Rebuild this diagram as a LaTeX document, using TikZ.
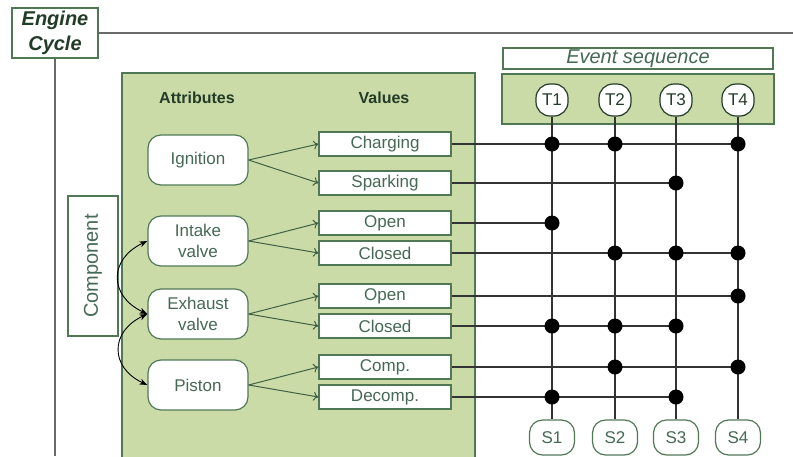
\documentclass[tikz,border=0pt]{standalone}
\usepackage{fontspec}
\setmainfont{Liberation Sans}
\usetikzlibrary{arrows.meta}
\definecolor{panelgreen}{RGB}{203,219,167}
\definecolor{edgegreen}{RGB}{80,120,85}
\definecolor{textgreen}{RGB}{70,105,85}
\definecolor{headgreen}{RGB}{35,60,40}
\definecolor{framegray}{RGB}{105,105,105}

\begin{document}
\begin{tikzpicture}
[
    x=1pt, y=-1pt,
    font=\fontsize{17}{21}\selectfont,
    box/.style={draw=edgegreen, line width=1.2pt, fill=white, text=textgreen, inner sep=0pt, align=center},
    attr/.style={box, rounded corners=13pt, minimum width=100pt, minimum height=50pt},
    val/.style={box, minimum width=132pt, minimum height=24pt},
    tnode/.style={box, text=headgreen, draw=headgreen, rounded corners=14pt, minimum width=32pt, minimum height=32pt},
    snode/.style={box, rounded corners=13pt, minimum width=45pt, minimum height=35pt},
    dot/.style={circle, fill=black, minimum size=15pt, inner sep=0pt},
    link/.style={edgegreen!80!black, line width=1pt, -{To[length=5pt,width=9pt]}},
    linkback/.style={black, line width=0.9pt, {Stealth[length=8pt,width=6pt]}-{Stealth[length=8pt,width=6pt]}},
    wire/.style={black!80, line width=1.3pt},
    frame/.style={framegray, line width=1.6pt},
]
\clip (0,0) rectangle (793,456);

% engine cycle frame
\node[box, minimum width=86pt, minimum height=50pt, text=headgreen,
      font=\fontsize{20}{25}\selectfont\bfseries\itshape] (cycle) at (55,33) {Engine\\Cycle};
\coordinate (topend) at (793,33);
\coordinate (leftend) at (55,456);
\draw[frame] (cycle.east) -- (topend);
\draw[frame] (cycle.south) -- (leftend);

\node[box, rotate=90, minimum width=140pt, minimum height=50pt,
      font=\fontsize{20}{24}\selectfont] (component) at (93,266) {Component};

% component panel
\draw[draw=edgegreen, fill=panelgreen, line width=1.2pt] (122,73) rectangle (475,480);
\node[text=headgreen, font=\fontsize{16}{20}\selectfont\bfseries] (attrhead) at (197,98) {Attributes};
\node[text=headgreen, font=\fontsize{16}{20}\selectfont\bfseries] (valhead) at (384,98) {Values};

\node[attr] (ignition) at (198,160) {Ignition};
\node[attr] (intake) at (198,241) {Intake\\valve};
\node[attr] (exhaust) at (198,314) {Exhaust\\valve};
\node[attr] (piston) at (198,385) {Piston};

\node[val] (charging) at (385,144) {Charging};
\node[val] (sparking) at (385,183) {Sparking};
\node[val] (inopen) at (385,223) {Open};
\node[val] (inclosed) at (385,253) {Closed};
\node[val] (exopen) at (385,296) {Open};
\node[val] (exclosed) at (385,326) {Closed};
\node[val] (comp) at (385,367) {Comp.};
\node[val] (decomp) at (385,397) {Decomp.};

\draw[link] (ignition.east) -- (charging.west);
\draw[link] (ignition.east) -- (sparking.west);
\draw[link] (intake.east) -- (inopen.west);
\draw[link] (intake.east) -- (inclosed.west);
\draw[link] (exhaust.east) -- (exopen.west);
\draw[link] (exhaust.east) -- (exclosed.west);
\draw[link] (piston.east) -- (comp.west);
\draw[link] (piston.east) -- (decomp.west);

\draw[linkback] (intake.west) to[bend right=65, looseness=1.5] (exhaust.west);
\draw[linkback] (exhaust.west) to[bend right=65, looseness=1.5] (piston.west);

% event sequence
\node[box, minimum width=270pt, minimum height=21pt, font=\fontsize{20}{24}\selectfont\itshape] (evlabel) at (638,58.5) {Event sequence};
\draw[draw=edgegreen, fill=panelgreen, line width=1.2pt] (502,74) rectangle (774,124);

\foreach \x [count=\i] in {552,615,676,738} {
    \node[tnode] (t\i) at (\x,100) {T\i};
    \node[snode] (s\i) at (\x,437.5) {S\i};
    \draw[wire] (t\i.south) -- (s\i.north);
}

\draw[wire] (charging.east) -- (t4 |- charging);
\draw[wire] (sparking.east) -- (t3 |- sparking);
\draw[wire] (inopen.east) -- (t1 |- inopen);
\draw[wire] (inclosed.east) -- (t4 |- inclosed);
\draw[wire] (exopen.east) -- (t4 |- exopen);
\draw[wire] (exclosed.east) -- (t3 |- exclosed);
\draw[wire] (comp.east) -- (t4 |- comp);
\draw[wire] (decomp.east) -- (t3 |- decomp);

\foreach \t/\v in {1/charging, 2/charging, 4/charging, 3/sparking, 1/inopen,
    2/inclosed, 3/inclosed, 4/inclosed, 4/exopen, 1/exclosed, 2/exclosed,
    3/exclosed, 2/comp, 4/comp, 1/decomp, 3/decomp}
    \node[dot] (d-\t-\v) at (t\t |- \v) {};
\end{tikzpicture}
\end{document}
